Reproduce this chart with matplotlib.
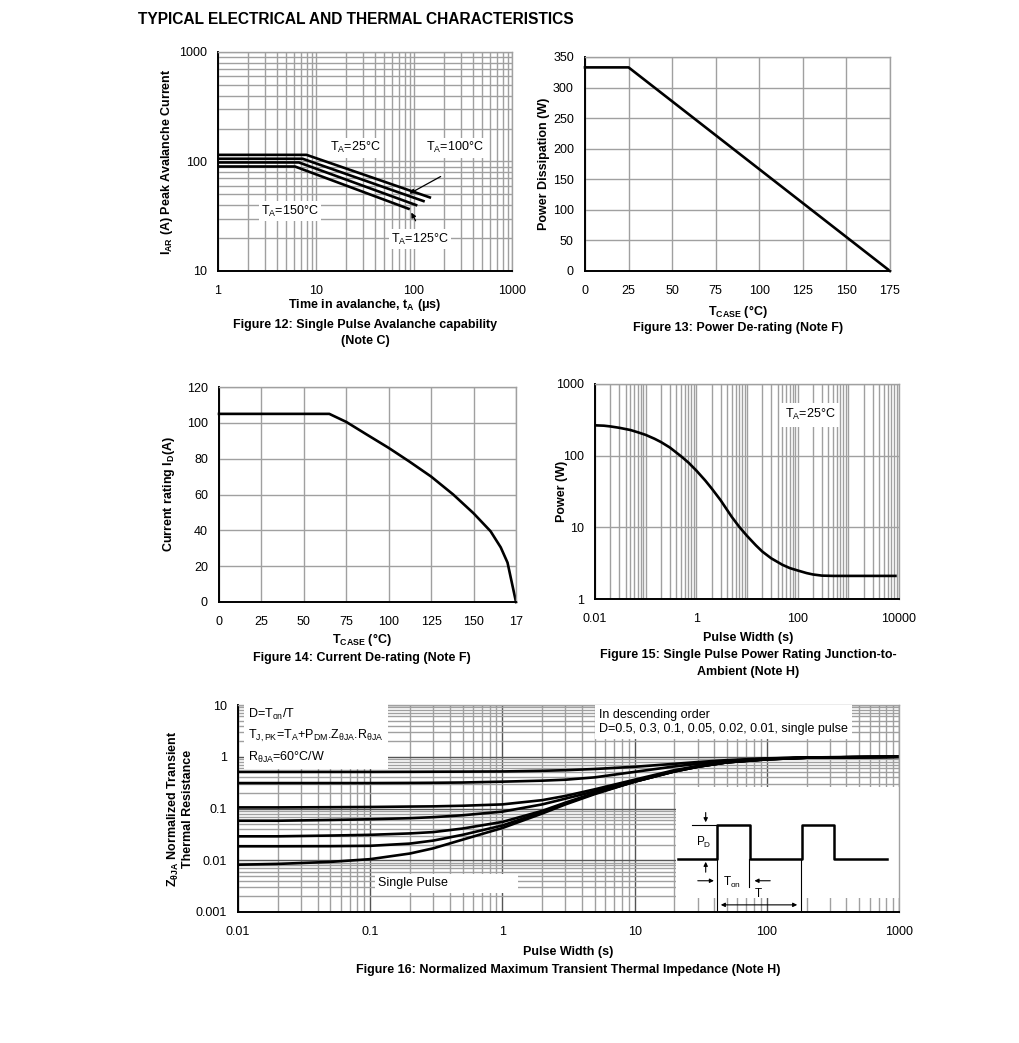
import matplotlib
matplotlib.use("Agg")
import matplotlib.pyplot as plt
import numpy as np
from matplotlib.ticker import LogLocator, FixedLocator, NullFormatter, NullLocator
from matplotlib.patches import Rectangle

plt.rcParams['font.family'] = ['Liberation Sans', 'DejaVu Sans']
plt.rcParams['mathtext.fontset'] = 'custom'
plt.rcParams['mathtext.rm'] = 'Liberation Sans'
plt.rcParams['mathtext.it'] = 'Liberation Sans'
plt.rcParams['mathtext.bf'] = 'Liberation Sans:bold'

# ---------------- data ----------------
# Fig 12: avalanche current vs time
t25 = [1, 8.0, 145]
i25 = [115, 115, 47]
t100 = [1, 7.3, 125]
i100 = [106, 106, 43.5]
t125 = [1, 6.7, 105]
i125 = [98, 98, 40]
t150 = [1, 6.1, 88]
i150 = [90, 90, 37]

# Fig 13: power de-rating
tcase13 = [0, 25, 175]
pd13 = [333, 333, 0]

# Fig 14: current de-rating
tcase14 = [0, 65, 75, 87, 100, 112, 125, 138, 150, 160, 166, 170, 175]
id14 = [105, 105, 100.5, 93.5, 86, 78.5, 70, 60, 49.5, 39.5, 30.5, 22, 0]
xt14 = [0, 25, 50, 75, 100, 125, 150, 175]
xt14_labels = ['0', '25', '50', '75', '100', '125', '150', '17']

# Fig 15: single pulse power rating
pw15 = [0.01, 0.015, 0.02, 0.03, 0.05, 0.07, 0.1, 0.15, 0.2, 0.3, 0.5, 0.7, 1, 1.5, 2, 3, 5, 7,
        10, 15, 20, 30, 50, 70, 100, 150, 200, 300, 500, 1000, 8500]
p15 = [265, 262, 256, 245, 228, 212, 195, 172, 155, 130, 98, 80, 62, 45, 35, 24, 14, 10.2,
       7.6, 5.6, 4.6, 3.7, 3.0, 2.7, 2.5, 2.3, 2.2, 2.12, 2.1, 2.1, 2.1]

# Fig 16: normalized transient thermal impedance
pw16 = [0.01, 0.02, 0.05, 0.1, 0.2, 0.3, 0.5, 1, 2, 3, 5, 10, 20, 30, 50, 100, 200, 1000]
z_d05 = [0.51, 0.51, 0.51, 0.51, 0.512, 0.514, 0.516, 0.52, 0.535, 0.55, 0.58, 0.64, 0.73, 0.79, 0.86, 0.93, 0.97, 1.0]
z_d03 = [0.31, 0.31, 0.31, 0.31, 0.312, 0.314, 0.318, 0.33, 0.345, 0.36, 0.40, 0.51, 0.65, 0.73, 0.83, 0.92, 0.97, 1.0]
z_d01 = [0.105, 0.105, 0.106, 0.107, 0.109, 0.11, 0.113, 0.12, 0.145, 0.175, 0.235, 0.36, 0.55, 0.66, 0.79, 0.90, 0.96, 1.0]
z_d005 = [0.058, 0.058, 0.06, 0.062, 0.065, 0.068, 0.074, 0.087, 0.12, 0.155, 0.215, 0.34, 0.53, 0.65, 0.78, 0.90, 0.96, 1.0]
z_d002 = [0.029, 0.029, 0.03, 0.031, 0.033, 0.035, 0.041, 0.055, 0.09, 0.13, 0.20, 0.33, 0.52, 0.64, 0.78, 0.89, 0.96, 1.0]
z_d001 = [0.0186, 0.0186, 0.0187, 0.019, 0.021, 0.024, 0.031, 0.047, 0.085, 0.125, 0.195, 0.33, 0.52, 0.64, 0.78, 0.89, 0.96, 1.0]
z_sp = [0.0082, 0.0085, 0.0093, 0.0105, 0.0135, 0.017, 0.025, 0.042, 0.08, 0.12, 0.19, 0.33, 0.52, 0.64, 0.78, 0.89, 0.96, 1.0]

# pulse schematic (inset diagram units)
pulse_x = [2, 41, 41, 74, 74, 126, 126, 158, 158, 211]
pulse_y = [0, 0, 1, 1, 0, 0, 1, 1, 0, 0]

W, H = 1020, 1043
fig = plt.figure(figsize=(W / 100, H / 100), dpi=100)

def ax_at(l, t, r, b):
    return fig.add_axes([l / W, 1 - b / H, (r - l) / W, (b - t) / H])

GRID = '#a0a0a0'
LW = 1.9
FS = 9

def style(ax):
    ax.tick_params(which='both', length=0, labelsize=FS)
    ax.tick_params(axis='x', pad=10)
    ax.tick_params(axis='y', pad=8)
    for s in ['left', 'bottom']:
        ax.spines[s].set_color('black')
        ax.spines[s].set_linewidth(1.4)
    for s in ['top', 'right']:
        ax.spines[s].set_color(GRID)
        ax.spines[s].set_linewidth(1.0)
    ax.set_axisbelow(True)

def ftext(x, y, s, **kw):
    fig.text(x / W, 1 - y / H, s, **kw)

ftext(138, 19, 'TYPICAL ELECTRICAL AND THERMAL CHARACTERISTICS', fontsize=11.2,
      fontweight='bold', va='center', ha='left')

# ---------------- Fig 12 ----------------
ax = ax_at(218, 52, 512, 271)
style(ax)
ax.set_xscale('log'); ax.set_yscale('log')
ax.set_xlim(1, 1000); ax.set_ylim(10, 1000)
ax.xaxis.set_minor_locator(LogLocator(base=10, subs=np.arange(2, 10)))
ax.yaxis.set_minor_locator(LogLocator(base=10, subs=np.arange(2, 10)))
ax.xaxis.set_minor_formatter(NullFormatter()); ax.yaxis.set_minor_formatter(NullFormatter())
ax.set_xticks([1, 10, 100, 1000]); ax.set_xticklabels(['1', '10', '100', '1000'])
ax.set_yticks([10, 100, 1000]); ax.set_yticklabels(['10', '100', '1000'])
ax.grid(which='both', color=GRID, lw=1.0)
for tx, iy in [(t25, i25), (t100, i100), (t125, i125), (t150, i150)]:
    ax.plot(tx, iy, color='black', lw=LW)
bb = dict(facecolor='white', edgecolor='none', pad=1.5)
ax.text(25, 133, '$\\mathregular{T_A}$=25°C', fontsize=FS, ha='center', va='center', bbox=bb)
ax.text(262, 133, '$\\mathregular{T_A}$=100°C', fontsize=FS, ha='center', va='center', bbox=bb)
ax.text(5.4, 35.3, '$\\mathregular{T_A}$=150°C', fontsize=FS, ha='center', va='center', bbox=bb)
ax.text(115, 19.6, '$\\mathregular{T_A}$=125°C', fontsize=FS, ha='center', va='center', bbox=bb)
ax.annotate('', xy=(85, 49.5), xytext=(198, 75),
            arrowprops=dict(arrowstyle='-|>', color='black', lw=0.9, mutation_scale=7))
ax.annotate('', xy=(91, 36), xytext=(107, 27.3),
            arrowprops=dict(arrowstyle='-|>', color='black', lw=0.9, mutation_scale=7))
ax.set_ylabel('$\\mathregular{I_{AR}}$ (A) Peak Avalanche Current', fontsize=FS, fontweight='bold', labelpad=3)
ftext(365, 305, 'Time in avalanche, $\\mathregular{t_A}$ (μs)', fontsize=FS, fontweight='bold', ha='center', va='center')
ftext(365, 325, 'Figure 12: Single Pulse Avalanche capability', fontsize=FS, fontweight='bold', ha='center', va='center')
ftext(365, 341, '(Note C)', fontsize=FS, fontweight='bold', ha='center', va='center')

# ---------------- Fig 13 ----------------
ax = ax_at(585, 57, 890, 271)
style(ax)
ax.set_xlim(0, 175); ax.set_ylim(0, 350)
ax.set_xticks(range(0, 176, 25)); ax.set_yticks(range(0, 351, 50))
ax.grid(color=GRID, lw=1.0)
ax.plot(tcase13, pd13, color='black', lw=LW, clip_on=False)
ax.set_ylabel('Power Dissipation (W)', fontsize=FS, fontweight='bold', labelpad=2)
ftext(738, 311, '$\\mathregular{T_{CASE}}$ (°C)', fontsize=FS, fontweight='bold', ha='center', va='center')
ftext(738, 328, 'Figure 13: Power De-rating (Note F)', fontsize=FS, fontweight='bold', ha='center', va='center')

# ---------------- Fig 14 ----------------
ax = ax_at(219, 387, 516, 602)
style(ax)
ax.set_xlim(0, 175); ax.set_ylim(0, 120)
ax.set_xticks(xt14); ax.set_xticklabels(xt14_labels)
ax.set_yticks(range(0, 121, 20))
ax.grid(color=GRID, lw=1.0)
ax.plot(tcase14, id14, color='black', lw=LW, clip_on=False)
ax.set_ylabel('Current rating $\\mathregular{I_D}$(A)', fontsize=FS, fontweight='bold', labelpad=7)
ftext(362, 639, '$\\mathregular{T_{CASE}}$ (°C)', fontsize=FS, fontweight='bold', ha='center', va='center')
ftext(362, 658, 'Figure 14: Current De-rating (Note F)', fontsize=FS, fontweight='bold', ha='center', va='center')

# ---------------- Fig 15 ----------------
ax = ax_at(595, 384, 899, 599)
style(ax)
ax.set_xscale('log'); ax.set_yscale('log')
ax.set_xlim(0.01, 10000); ax.set_ylim(1, 1000)
ax.xaxis.set_major_locator(FixedLocator([0.01, 1, 100, 10000]))
ax.set_xticklabels(['0.01', '1', '100', '10000'])
ax.xaxis.set_minor_locator(LogLocator(base=10, subs=np.arange(1, 10), numticks=30))
ax.xaxis.set_minor_formatter(NullFormatter())
ax.set_yticks([1, 10, 100, 1000]); ax.set_yticklabels(['1', '10', '100', '1000'])
ax.yaxis.set_minor_locator(NullLocator())
ax.grid(which='both', axis='x', color=GRID, lw=1.0)
ax.grid(which='major', axis='y', color=GRID, lw=1.0)
ax.plot(pw15, p15, color='black', lw=LW)
ax.text(174, 370, '$\\mathregular{T_A}$=25°C', fontsize=FS, ha='center', va='center',
        bbox=dict(facecolor='white', edgecolor='none', pad=3))
ax.set_ylabel('Power (W)', fontsize=FS, fontweight='bold', labelpad=-9)
ftext(748, 638, 'Pulse Width (s)', fontsize=FS, fontweight='bold', ha='center', va='center')
ftext(748, 655, 'Figure 15: Single Pulse Power Rating Junction-to-', fontsize=FS, fontweight='bold', ha='center', va='center')
ftext(748, 672, 'Ambient (Note H)', fontsize=FS, fontweight='bold', ha='center', va='center')

# ---------------- Fig 16 ----------------
ax = ax_at(238, 705, 899, 912)
style(ax)
ax.set_xscale('log'); ax.set_yscale('log')
ax.set_xlim(0.01, 1000); ax.set_ylim(0.001, 10)
ax.set_xticks([0.01, 0.1, 1, 10, 100, 1000]); ax.set_xticklabels(['0.01', '0.1', '1', '10', '100', '1000'])
ax.set_yticks([0.001, 0.01, 0.1, 1, 10]); ax.set_yticklabels(['0.001', '0.01', '0.1', '1', '10'])
ax.xaxis.set_minor_locator(LogLocator(base=10, subs=np.arange(2, 10), numticks=30))
ax.yaxis.set_minor_locator(LogLocator(base=10, subs=np.arange(2, 10), numticks=30))
ax.xaxis.set_minor_formatter(NullFormatter()); ax.yaxis.set_minor_formatter(NullFormatter())
ax.grid(which='minor', color=GRID, lw=1.0)
ax.grid(which='major', color='#555555', lw=1.0)
for z in [z_d05, z_d03, z_d01, z_d005, z_d002, z_d001, z_sp]:
    ax.plot(pw16, z, color='black', lw=LW)
ax.text(0.012, 9.3, 'D=$\\mathregular{T_{on}}$/T\n$\\mathregular{T_{J,PK}}$=$\\mathregular{T_A}$+$\\mathregular{P_{DM}}$.$\\mathregular{Z_{\\theta JA}}$.$\\mathregular{R_{\\theta JA}}$\n$\\mathregular{R_{\\theta JA}}$=60°C/W',
        fontsize=FS, ha='left', va='top', linespacing=1.55,
        bbox=dict(facecolor='white', edgecolor='none', pad=3))
ax.text(5.4, 8.3, 'In descending order\nD=0.5, 0.3, 0.1, 0.05, 0.02, 0.01, single pulse',
        fontsize=FS, ha='left', va='top', linespacing=1.2,
        bbox=dict(facecolor='white', edgecolor='none', pad=3))
ax.text(0.115, 0.0036, 'Single Pulse                   ', fontsize=FS, ha='left', va='center',
        bbox=dict(facecolor='white', edgecolor='none', pad=2.5))
ax.set_ylabel('$\\mathregular{Z_{\\theta JA}}$ Normalized Transient\nThermal Resistance', fontsize=FS,
              fontweight='bold', labelpad=1, linespacing=1.15)
# white area behind the pulse diagram (axes fractions)
ax.add_patch(Rectangle((0.6626, 0.068), 0.3374, 0.536, transform=ax.transAxes,
                       facecolor='white', edgecolor='none', zorder=1.5))
ftext(568, 952, 'Pulse Width (s)', fontsize=FS, fontweight='bold', ha='center', va='center')
ftext(568, 970, 'Figure 16: Normalized Maximum Transient Thermal Impedance (Note H)', fontsize=FS,
      fontweight='bold', ha='center', va='center')

# inset schematic
ins = ax_at(676, 787, 898, 912)
ins.patch.set_alpha(0)
for s in ins.spines.values():
    s.set_visible(False)
ins.set_xticks([]); ins.set_yticks([])
ins.set_xlim(0, 222); ins.set_ylim(-1.56, 2.12)
ins.plot(pulse_x, pulse_y, color='black', lw=1.8)
ap = dict(arrowstyle='-|>', color='black', lw=0.8, mutation_scale=6)
ins.plot([16, 41], [1, 1], color='black', lw=0.8)
ins.annotate('', xy=(29.7, 1.0), xytext=(29.7, 1.45), arrowprops=ap)
ins.annotate('', xy=(29.7, 0.0), xytext=(29.7, -0.47), arrowprops=ap)
ins.text(28, 0.5, '$\\mathregular{P_D}$', fontsize=8.5, ha='center', va='center')
ins.annotate('', xy=(40.7, -0.64), xytext=(19, -0.64), arrowprops=ap)
ins.annotate('', xy=(75.7, -0.64), xytext=(97, -0.64), arrowprops=ap)
ins.plot([73.3, 73.3], [0, -0.81], color='black', lw=0.8)
ins.text(56, -0.7, '$\\mathregular{T_{on}}$', fontsize=8.5, ha='center', va='center')
ins.text(82, -1.03, 'T', fontsize=8.5, ha='center', va='center')
ins.plot([41, 41], [0, -1.5], color='black', lw=0.8)
ins.plot([125, 125], [0, -1.5], color='black', lw=0.8)
ins.annotate('', xy=(42, -1.35), xytext=(124, -1.35),
             arrowprops=dict(arrowstyle='<|-|>', color='black', lw=0.8, mutation_scale=6))

fig.savefig('out.png', dpi=100, facecolor='white')
